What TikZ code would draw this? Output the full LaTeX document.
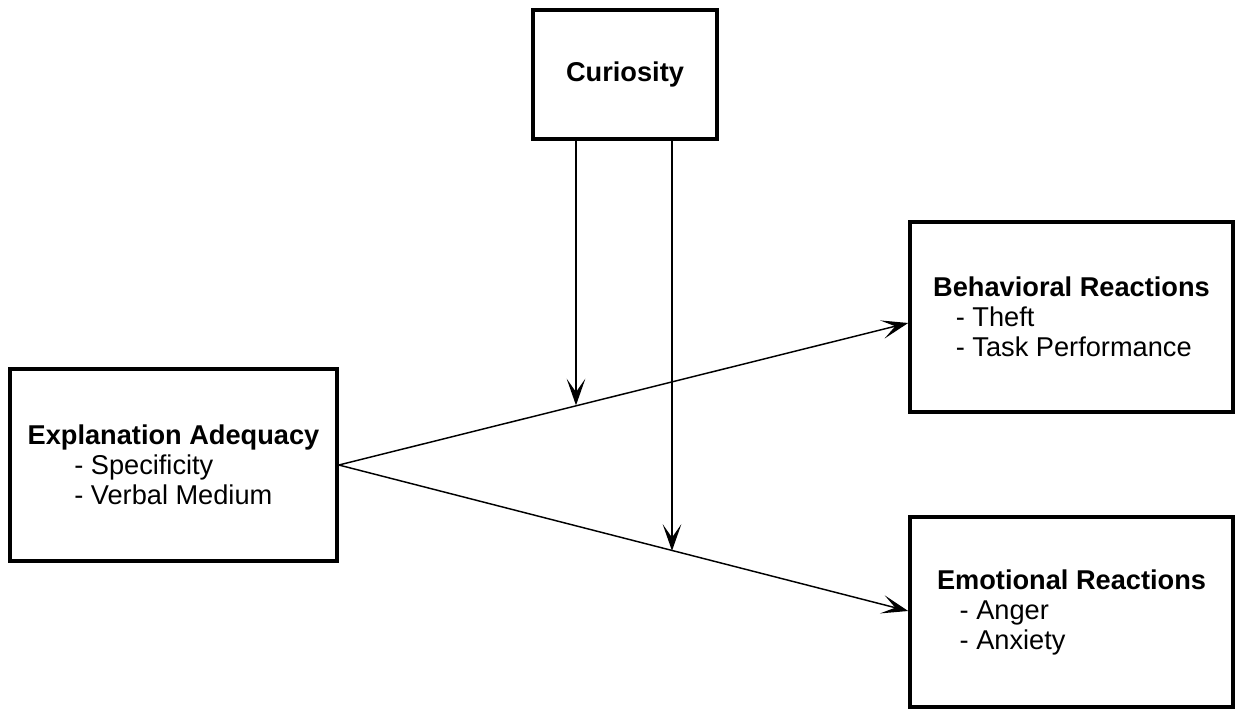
\documentclass[tikz,border=0pt]{standalone}
\usepackage{fontspec}
\setmainfont{Liberation Sans}
\usetikzlibrary{arrows.meta,calc}
\begin{document}
\begin{tikzpicture}[x=0.75pt,y=-0.75pt,
  box/.style={draw=black,line width=2.7pt,fill=white,inner sep=0pt,align=left,
    font=\fontsize{20.4}{22.5}\selectfont},
  arr/.style={line width=1.1pt,-{Stealth[length=20pt,width=14pt,inset=10pt]}}]
\useasboundingbox[fill=white] (0,0) rectangle (1238,709);
\node[box,minimum width=184*0.75pt,minimum height=129*0.75pt] (cu) at (625,74.5) {\textbf{Curiosity}};
\node[box,minimum width=327*0.75pt,minimum height=192*0.75pt] (ea) at (173.5,465)
  {\textbf{Explanation Adequacy}\\\hspace*{35pt}- Specificity\\\hspace*{35pt}- Verbal Medium};
\node[box,minimum width=323*0.75pt,minimum height=190*0.75pt] (br) at (1071.5,317)
  {\textbf{Behavioral Reactions}\\\hspace*{17pt}- Theft\\\hspace*{17pt}- Task Performance};
\node[box,minimum width=323*0.75pt,minimum height=190*0.75pt] (er) at (1071.5,612)
  {\textbf{Emotional Reactions}\\\hspace*{17pt}- Anger\\\hspace*{17pt}- Anxiety};
\coordinate (bt) at ($(br.west)+(0,6)$);
\coordinate (et) at ($(er.west)+(0,-1)$);
\draw[arr] (ea.east) -- (bt);
\draw[arr] (ea.east) -- (et);
\path (ea.east) -- (bt) coordinate[pos=0.42] (m1);
\path (ea.east) -- (et) coordinate[pos=0.588] (m2);
\coordinate (c1) at ($(cu.south)+(-49,0)$);
\coordinate (c2) at ($(cu.south)+(47,0)$);
\draw[arr] (c1) -- (c1 |- m1);
\draw[arr] (c2) -- (c2 |- m2);
\end{tikzpicture}
\end{document}
